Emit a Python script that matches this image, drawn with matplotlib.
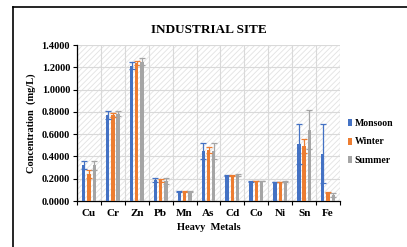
import matplotlib.pyplot as plt
import numpy as np
from matplotlib.patches import Rectangle
from matplotlib.lines import Line2D

metals = ['Cu', 'Cr', 'Zn', 'Pb', 'Mn', 'As', 'Cd', 'Co', 'Ni', 'Sn', 'Fe']
monsoon = [0.320, 0.770, 1.215, 0.190, 0.085, 0.450, 0.230, 0.175, 0.170, 0.510, 0.425]
winter = [0.245, 0.770, 1.240, 0.185, 0.085, 0.460, 0.230, 0.180, 0.170, 0.495, 0.075]
summer = [0.320, 0.785, 1.250, 0.180, 0.085, 0.450, 0.230, 0.180, 0.175, 0.640, 0.055]
monsoon_err = [0.035, 0.035, 0.030, 0.015, 0.003, 0.070, 0.002, 0.003, 0.003, 0.180, 0.265]
winter_err = [0.035, 0.020, 0.015, 0.015, 0.003, 0.025, 0.002, 0.003, 0.003, 0.060, 0.005]
summer_err = [0.040, 0.020, 0.030, 0.025, 0.003, 0.070, 0.010, 0.003, 0.003, 0.175, 0.020]
seasons = ['Monsoon', 'Winter', 'Summer']
colors = ['#4472C4', '#ED7D31', '#A5A5A5']

plt.rcParams['font.family'] = ['Liberation Serif', 'DejaVu Serif']
plt.rcParams['font.weight'] = 'bold'
plt.rcParams['hatch.color'] = '#E2E2E2'
plt.rcParams['hatch.linewidth'] = 0.6

fig = plt.figure(figsize=(4.07, 2.47), dpi=100)
ax = fig.add_axes([77 / 407, 1 - 201 / 247, 263 / 407, 156 / 247])

xs = np.arange(len(metals))
w = 0.14
offs = [-0.22, 0.0, 0.22]
for vals, errs, off, c, lab in zip([monsoon, winter, summer],
                                   [monsoon_err, winter_err, summer_err],
                                   offs, colors, seasons):
    ax.bar(xs + off, vals, w, color=c, label=lab, zorder=3,
           yerr=errs, error_kw=dict(ecolor=c, elinewidth=0.9, capsize=2, capthick=0.9))

ax.add_patch(Rectangle((0, 0), 1, 1, transform=ax.transAxes, facecolor='white',
                       hatch='//////', edgecolor='#E2E2E2', lw=0, zorder=0))

ax.set_xlim(-0.5, len(metals) - 0.5)
ax.set_ylim(0, 1.4)
ax.set_yticks(np.arange(0, 1.41, 0.2))
ax.set_yticklabels(['%.4f' % v for v in np.arange(0, 1.41, 0.2)], fontsize=7.5)
ax.set_xticks(xs)
ax.set_xticklabels(metals, fontsize=8)
ax.set_xticks(np.arange(-0.5, len(metals), 1), minor=True)
ax.tick_params(axis='x', which='major', length=0, pad=6)
ax.tick_params(axis='x', which='minor', length=3, direction='out', width=0.8)
ax.tick_params(axis='y', length=3, width=0.8, pad=2)
ax.grid(axis='y', color='#D9D9D9', lw=0.8, zorder=1)
ax.grid(axis='x', which='minor', color='#D9D9D9', lw=0.8, zorder=1)
for s in ['top', 'right']:
    ax.spines[s].set_visible(False)
for s in ['left', 'bottom']:
    ax.spines[s].set_linewidth(0.9)

ax.set_title('INDUSTRIAL SITE', fontsize=9.5, fontweight='bold', pad=9)
ax.set_ylabel('Concentration  (mg/L)', fontsize=7.5, fontweight='bold', labelpad=4)
ax.set_xlabel('Heavy  Metals', fontsize=7.5, fontweight='bold', labelpad=3)

fig.legend(loc='center left', bbox_to_anchor=(348 / 407, 1 - 142 / 247), frameon=False,
           fontsize=7, handlelength=0.45, handleheight=0.7, handletextpad=0.25,
           labelspacing=0.95, borderaxespad=0, borderpad=0)

fig.add_artist(Line2D([13 / 407, 13 / 407], [0, 1 - 7 / 247], transform=fig.transFigure,
                      color='black', lw=1.2))
fig.add_artist(Line2D([13 / 407, 1], [1 - 7 / 247, 1 - 7 / 247], transform=fig.transFigure,
                      color='black', lw=1.2))

fig.savefig('out.png', dpi=100)
